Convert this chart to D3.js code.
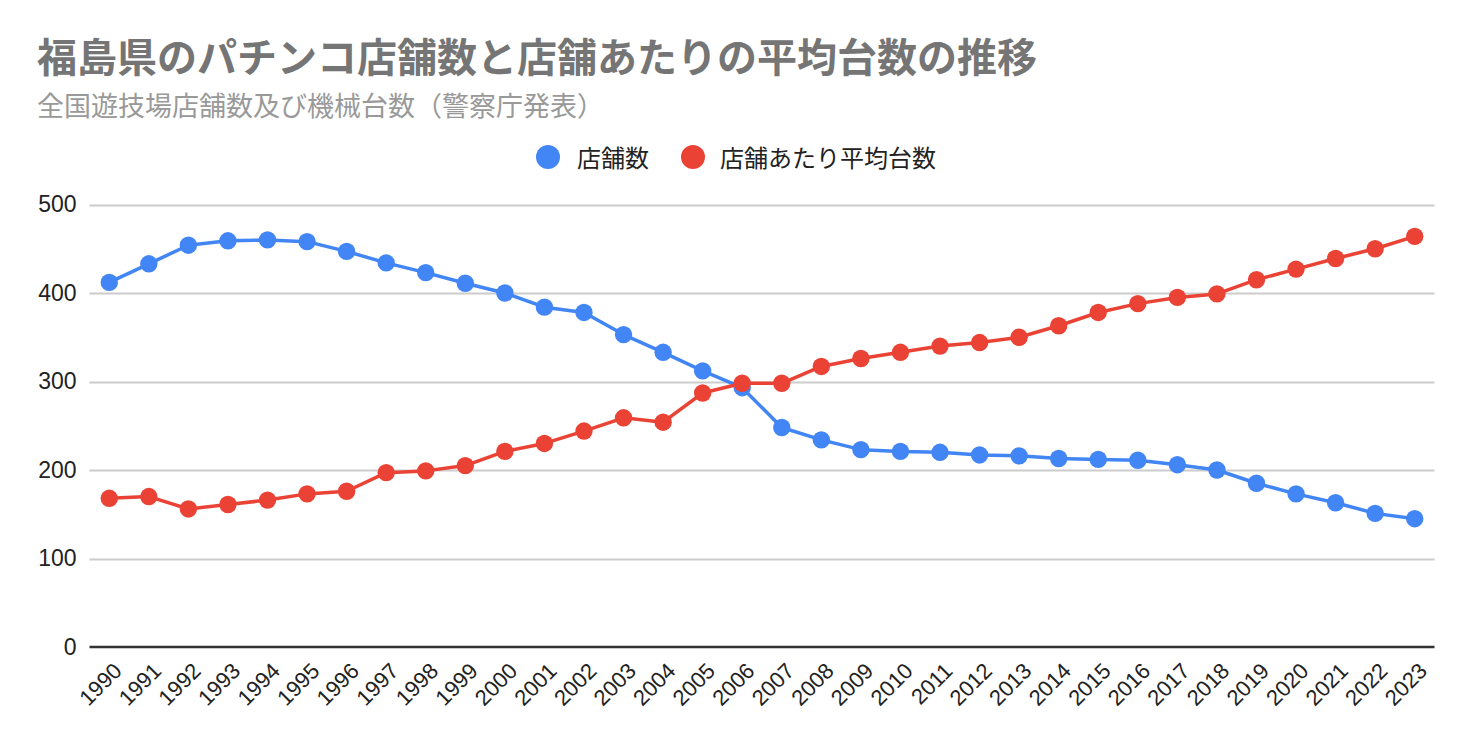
<!DOCTYPE html>
<html>
<head>
<meta charset="utf-8">
<script src="https://cdn.jsdelivr.net/npm/d3@7"></script>
<style>
  html, body { margin: 0; padding: 0; background: #fff; }
  svg { display: block; }
</style>
</head>
<body>
<svg id="chart" width="1472" height="742"></svg>
<script>
const years = ["1990","1991","1992","1993","1994","1995","1996","1997","1998","1999","2000","2001","2002","2003","2004","2005","2006","2007","2008","2009","2010","2011","2012","2013","2014","2015","2016","2017","2018","2019","2020","2021","2022","2023"];
const storeCounts = [412,433,454,459,460,458,447,434,423,411,400,384,378,353,333,312,293,248,234,223,221,220,217,216,213,212,211,206,200,185,173,163,151,145];
const avgMachines = [168,170,156,161,166,173,176,197,199,205,221,230,244,259,254,287,298,298,317,326,333,340,344,350,363,378,388,395,399,415,427,439,450,464];
const yTicks = [0,100,200,300,400,500];
const seriesNames = ["店舗数","店舗あたり平均台数"];
const seriesColors = ["#4285F4","#EA4335"];
const titleText = "福島県のパチンコ店舗数と店舗あたりの平均台数の推移";
const subtitleText = "全国遊技場店舗数及び機械台数（警察庁発表）";

(function () {
const svg = d3.select("#chart");
const jp = "'Noto Sans CJK JP', 'Noto Sans', sans-serif";
const latin = "'Liberation Sans', Arial, sans-serif";

const pLeft = 89.5, pRight = 1434.5, pTop = 204.5, pBottom = 647;
const x = d3.scalePoint().domain(years).range([pLeft, pRight]).padding(0.5);
const y = d3.scaleLinear().domain([0, 500]).range([pBottom, pTop]);

// Title & subtitle
svg.append("text").attr("x", 37).attr("y", 55).attr("dominant-baseline", "central")
  .attr("font-family", jp).attr("font-weight", "bold").attr("font-size", 40)
  .attr("fill", "#757575").text(titleText);
svg.append("text").attr("x", 37).attr("y", 104).attr("dominant-baseline", "central")
  .attr("font-family", jp).attr("font-size", 27)
  .attr("fill", "#999999").text(subtitleText);

// Legend
const legendItems = [{cx: 548, tx: 577}, {cx: 693, tx: 720}];
legendItems.forEach((it, i) => {
  svg.append("circle").attr("cx", it.cx).attr("cy", 157).attr("r", 12).attr("fill", seriesColors[i]);
  svg.append("text").attr("x", it.tx).attr("y", 156).attr("dominant-baseline", "central")
    .attr("font-family", jp).attr("font-size", 24).attr("fill", "#222222").text(seriesNames[i]);
});

// Gridlines
svg.append("g").selectAll("line").data(yTicks.filter(d => d !== 0)).join("line")
  .attr("x1", pLeft).attr("x2", pRight)
  .attr("y1", d => Math.round(y(d)) + 0.5).attr("y2", d => Math.round(y(d)) + 0.5)
  .attr("stroke", "#cccccc").attr("stroke-width", 2);

// Y axis labels
const yAxis = d3.axisLeft(y).tickValues(yTicks).tickSize(0).tickPadding(13);
const gy = svg.append("g").attr("transform", `translate(${pLeft},0)`).call(yAxis);
gy.select(".domain").remove();
gy.selectAll("text").attr("font-family", latin).attr("font-size", 23).attr("fill", "#222222");

// Baseline
svg.append("line").attr("x1", pLeft).attr("x2", pRight).attr("y1", y(0)).attr("y2", y(0))
  .attr("stroke", "#333333").attr("stroke-width", 2.5);

// X axis labels
const xAxis = d3.axisBottom(x).tickSize(0).tickPadding(0);
const gx = svg.append("g").attr("transform", `translate(0,${pBottom})`).call(xAxis);
gx.select(".domain").remove();
gx.selectAll("text")
  .attr("font-family", latin).attr("font-size", 22).attr("fill", "#222222")
  .attr("text-anchor", "end").attr("dy", null).attr("y", 0)
  .attr("transform", "translate(8,20) rotate(-45)")
  .attr("dominant-baseline", "central");

// Series
const line = d3.line().x((d, i) => x(years[i])).y(d => y(d));
[storeCounts, avgMachines].forEach((vals, s) => {
  const g = svg.append("g");
  g.append("path").datum(vals).attr("d", line).attr("fill", "none")
    .attr("stroke", seriesColors[s]).attr("stroke-width", 3.5).attr("stroke-linejoin", "round");
  g.selectAll("circle").data(vals).join("circle")
    .attr("cx", (d, i) => x(years[i])).attr("cy", d => y(d)).attr("r", 8.7)
    .attr("fill", seriesColors[s]);
});
})();
</script>
</body>
</html>
